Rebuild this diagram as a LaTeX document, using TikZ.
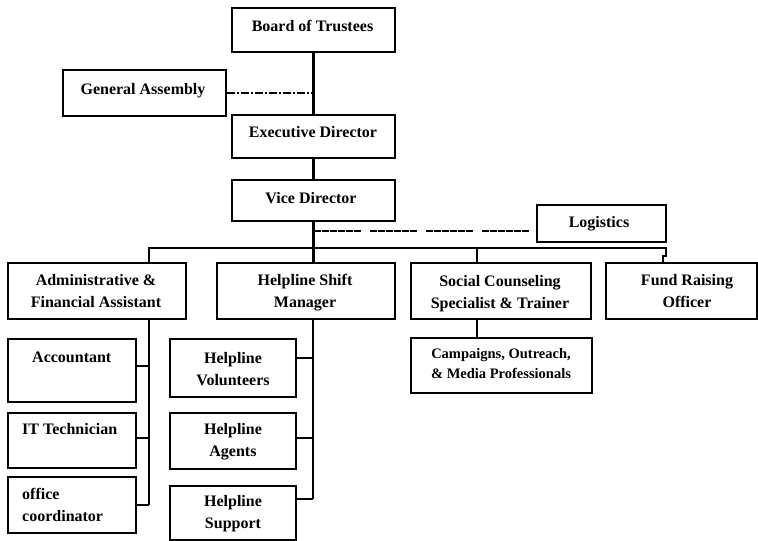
\documentclass[tikz,border=0pt]{standalone}
\usepackage{fontspec}
\setmainfont{Liberation Serif}
\usetikzlibrary{calc}
\tikzset{
  box/.style={draw, line width=2.4pt, rectangle, inner sep=0pt},
  txt/.style={font=\bfseries\fontsize{16}{21.5}\selectfont, inner sep=0pt, align=center, anchor=base},
  ltxt/.style={txt, align=left, anchor=base west},
  small/.style={txt, font=\bfseries\fontsize{14.5}{20}\selectfont},
  link/.style={line width=2.4pt},
  gadash/.style={line width=2.8pt, dash pattern=on 8pt off 2pt on 2pt off 2pt},
  logdash/.style={line width=1.8pt, dash pattern=on 7pt off 1pt on 7pt off 1pt on 7pt off 1pt on 7pt off 1pt on 7pt off 1pt on 7pt off 9pt},
}
\begin{document}
\begin{tikzpicture}[x=1pt, y=-1pt]
\useasboundingbox (0,0) rectangle (758,541);

% top chain
\node[box, minimum width=163pt, minimum height=44pt] (board) at (313.5,30) {};
\node[box, minimum width=163pt, minimum height=46pt] (ga) at (144.5,93) {};
\node[box, minimum width=163pt, minimum height=43pt] (exec) at (313.5,136.5) {};
\node[box, minimum width=163pt, minimum height=41pt] (vice) at (313.5,200.5) {};
\node[box, minimum width=129pt, minimum height=37pt] (logi) at (601.5,223.5) {};

% second tier
\node[box, minimum width=178pt, minimum height=56pt] (admin) at (97,291) {};
\node[box, minimum width=178pt, minimum height=56pt] (hsm) at (306,291) {};
\node[box, minimum width=180pt, minimum height=56pt] (social) at (501,291) {};
\node[box, minimum width=151pt, minimum height=56pt] (fund) at (681.5,291) {};

% third tier
\node[box, minimum width=128pt, minimum height=63pt] (acct) at (72,370.5) {};
\node[box, minimum width=128pt, minimum height=55pt] (itech) at (72,440.5) {};
\node[box, minimum width=128pt, minimum height=56pt] (office) at (72,505) {};
\node[box, minimum width=126pt, minimum height=58pt] (vol) at (233,368) {};
\node[box, minimum width=126pt, minimum height=56pt] (agents) at (233,441) {};
\node[box, minimum width=126pt, minimum height=54pt] (support) at (233,513) {};
\node[box, minimum width=181pt, minimum height=55pt] (camp) at (501.5,365.5) {};

% labels (multi-line labels are placed by their last baseline)
\node[txt] (boardT) at (312.5,31) {Board of Trustees};
\node[txt] (gaT) at (143,94) {General Assembly};
\node[txt] (execT) at (313,137) {Executive Director};
\node[txt] (viceT) at (311,203) {Vice Director};
\node[txt] (logiT) at (599,227) {Logistics};
\node[txt] (adminT) at (96,307) {Administrative \&\\Financial Assistant};
\node[txt] (hsmT) at (305,307) {Helpline Shift\\Manager};
\node[txt] (socialT) at (500,308) {Social Counseling\\Specialist \& Trainer};
\node[txt] (fundT) at (687,307) {Fund Raising\\Officer};
\node[ltxt] (acctT) at (32,362) {Accountant};
\node[ltxt] (itechT) at (22,434) {IT Technician};
\node[ltxt] (officeT) at (22,521) {office\\coordinator};
\node[txt] (volT) at (233,385) {Helpline\\Volunteers};
\node[txt] (agentsT) at (233,456) {Helpline\\Agents};
\node[txt] (supportT) at (233,528) {Helpline\\Support};
\node[small] (campT) at (501,378) {Campaigns, Outreach,\\\& Media Professionals};

% junction points
\coordinate (busL) at (149,248);
\coordinate (busR) at (666,248);
\coordinate (jogA) at (666,256);
\coordinate (jogB) at (663,256);
\coordinate (socx) at (477,248);
\coordinate (lg) at (313.5,231);
\coordinate (a1) at (149,366);
\coordinate (a2) at (149,438);
\coordinate (a3) at (149,505);
\coordinate (h1) at (313,358);
\coordinate (h2) at (313,438);
\coordinate (h3) at (313,499);

% main spine
\draw[link] (board.south) -- (exec.north);
\draw[link] (exec.south) -- (vice.north);
\draw[link] (vice.south) -- (hsm.north -| vice.south);
\draw[gadash] (ga.east) -- (ga.east -| board.south);
\draw[logdash] (lg) -- (logi.west |- lg);

% bus to second tier
\draw[link] (admin.north -| busL) -- (busL) -- (busR) -- (jogA) -- (jogB) -- (fund.north -| jogB);
\draw[link] (socx) -- (social.north -| socx);
\draw[link] (social.south -| socx) -- (camp.north -| socx);

% administrative branch
\draw[link] (admin.south -| a1) -- (a3);
\draw[link] (acct.east |- a1) -- (a1);
\draw[link] (itech.east |- a2) -- (a2);
\draw[link] (office.east |- a3) -- (a3);

% helpline branch
\draw[link] (hsm.south -| h1) -- (h3);
\draw[link] (vol.east |- h1) -- (h1);
\draw[link] (agents.east |- h2) -- (h2);
\draw[link] (support.east |- h3) -- (h3);
\end{tikzpicture}
\end{document}
